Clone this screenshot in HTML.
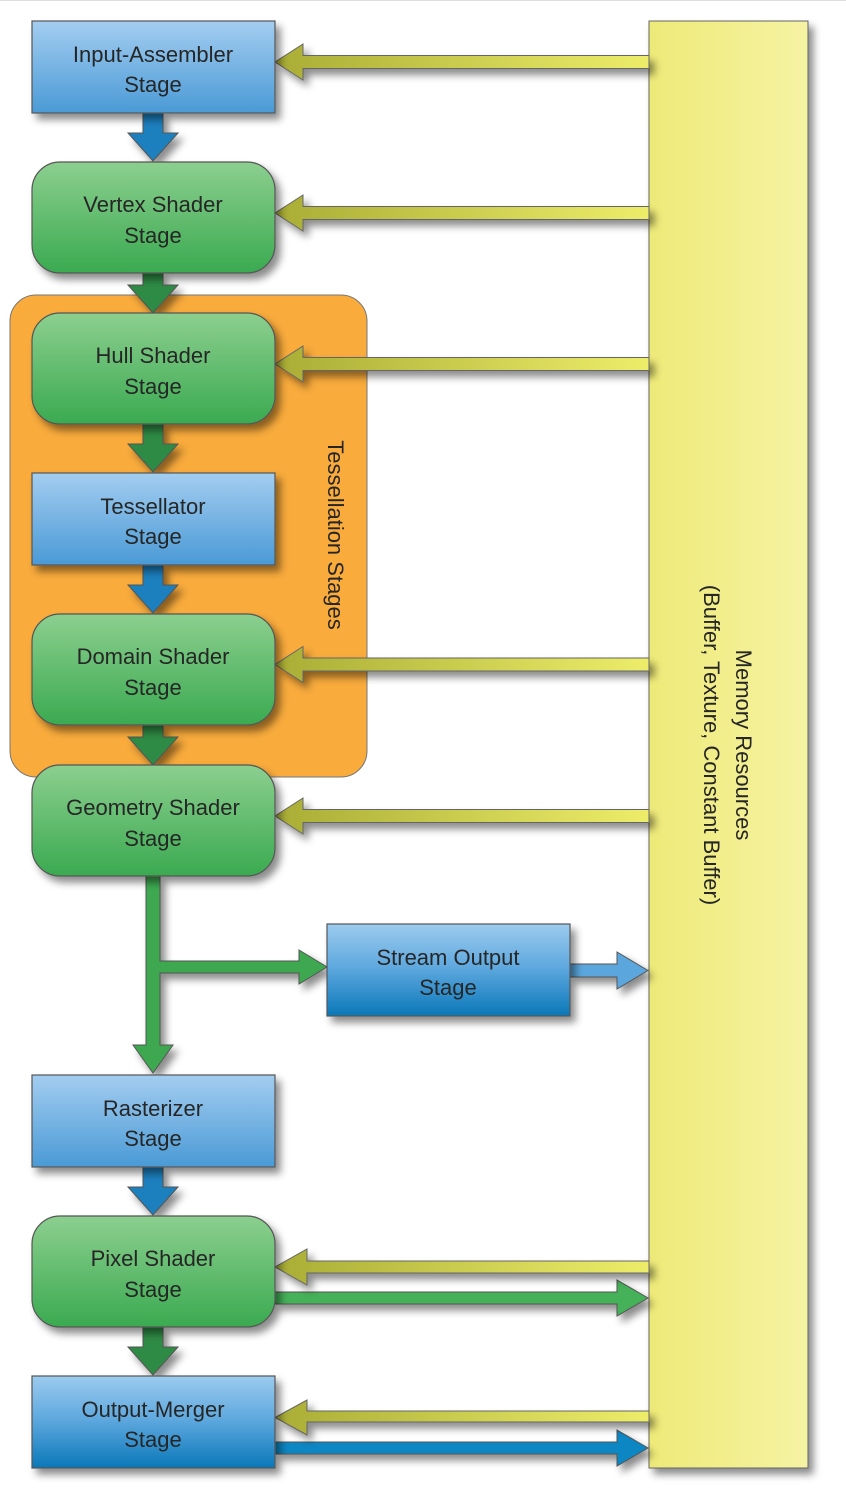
<!DOCTYPE html>
<html><head><meta charset="utf-8"><style>
html,body{margin:0;padding:0;background:#fff;width:846px;height:1501px;overflow:hidden}
text{font-family:"Liberation Sans",sans-serif;font-size:22px;fill:#262626;text-anchor:middle}
</style></head><body>
<svg width="846" height="1501" viewBox="0 0 846 1501" xmlns="http://www.w3.org/2000/svg">
<defs>
<linearGradient id="bl" x1="0" y1="0" x2="0" y2="1"><stop offset="0" stop-color="#a3cdf0"/><stop offset="1" stop-color="#4a9ad6"/></linearGradient>
<linearGradient id="bd" x1="0" y1="0" x2="0" y2="1"><stop offset="0" stop-color="#9ccbef"/><stop offset="0.5" stop-color="#5aa6dd"/><stop offset="1" stop-color="#0a78b8"/></linearGradient>
<linearGradient id="gr" x1="0" y1="0" x2="0" y2="1"><stop offset="0" stop-color="#8ccf8f"/><stop offset="1" stop-color="#3aaa50"/></linearGradient>
<linearGradient id="ye" x1="0" y1="0" x2="1" y2="0"><stop offset="0" stop-color="#a9ad35"/><stop offset="1" stop-color="#eded6a"/></linearGradient>
<linearGradient id="mem" x1="0" y1="0" x2="1" y2="0"><stop offset="0" stop-color="#eeea78"/><stop offset="1" stop-color="#f6f3a4"/></linearGradient>
<filter id="sh" x="-10%" y="-10%" width="130%" height="130%"><feDropShadow dx="5" dy="6" stdDeviation="4" flood-color="#000" flood-opacity="0.45"/></filter>
</defs>
<line x1="0" y1="0.5" x2="846" y2="0.5" stroke="#ddd"/>
<rect x="649" y="21" width="159" height="1447" fill="url(#mem)" stroke="#666" filter="url(#sh)"/>
<rect x="10" y="295" width="357" height="482" rx="26" fill="#f9ab3c" stroke="#777"/>
<text transform="translate(335,535) rotate(90)" dy="7">Tessellation Stages</text>
<g transform="translate(728,745) rotate(90)"><text y="-8">Memory Resources</text><text y="24">(Buffer, Texture, Constant Buffer)</text></g>
<g stroke="#555" stroke-width="1" filter="url(#sh)">
<path d="M143,113 h20 v20 h15 l-25,28 l-25,-28 h15z" fill="#1a7fbe"/>
<path d="M143,273 h20 v12 h15 l-25,28 l-25,-28 h15z" fill="#2e8b44"/>
<path d="M143,424 h20 v20 h15 l-25,28 l-25,-28 h15z" fill="#2e8b44"/>
<path d="M143,565 h20 v20 h15 l-25,28 l-25,-28 h15z" fill="#1a7fbe"/>
<path d="M143,725 h20 v12 h15 l-25,28 l-25,-28 h15z" fill="#2e8b44"/>
<path d="M143,1167 h20 v20 h15 l-25,28 l-25,-28 h15z" fill="#1a7fbe"/>
<path d="M143,1327 h20 v20 h15 l-25,28 l-25,-28 h15z" fill="#2e8b44"/>
<path d="M146,876 h14 v85 h139 v-11 l28,17 l-28,17 v-11 h-139 v72 h13 l-20,28 l-20,-28 h13z" fill="#3ea84f"/>
<path d="M570,964 h47 v-12 l31,18.5 l-31,18.5 v-12 h-47z" fill="#5aa6dd"/>
<path d="M275,1292 h342 v-12 l31,18 l-31,18 v-12 h-342z" fill="#45b159"/>
<path d="M275,1442 h342 v-12 l31,18 l-31,18 v-12 h-342z" fill="#0a86c4"/>
</g>
<g fill="url(#ye)" stroke="#666" filter="url(#sh)">
<path d="M649,55.5 h-346 v-11.5 l-28,18 l28,18 v-11.5 h346z"/>
<path d="M649,206.5 h-346 v-11.5 l-28,18 l28,18 v-11.5 h346z"/>
<path d="M649,357.5 h-346 v-11.5 l-28,18 l28,18 v-11.5 h346z"/>
<path d="M649,658 h-346 v-11.5 l-28,18 l28,18 v-11.5 h346z"/>
<path d="M649,809.5 h-346 v-11.5 l-28,18 l28,18 v-11.5 h346z"/>
<path d="M649,1261 h-342 v-12 l-32,18 l32,18 v-12 h342z"/>
<path d="M649,1411 h-342 v-11 l-32,17.5 l32,17.5 v-13 h342z"/>
</g>
<g stroke="#555" stroke-width="1.2" filter="url(#sh)">
<rect x="32" y="21" width="243" height="92" fill="url(#bl)"/>
<rect x="32" y="162" width="243" height="111" rx="28" fill="url(#gr)"/>
<rect x="32" y="313" width="243" height="111" rx="28" fill="url(#gr)"/>
<rect x="32" y="473" width="243" height="92" fill="url(#bl)"/>
<rect x="32" y="614" width="243" height="111" rx="28" fill="url(#gr)"/>
<rect x="32" y="765" width="243" height="111" rx="28" fill="url(#gr)"/>
<rect x="327" y="924" width="243" height="92" fill="url(#bd)"/>
<rect x="32" y="1075" width="243" height="92" fill="url(#bl)"/>
<rect x="32" y="1216" width="243" height="111" rx="28" fill="url(#gr)"/>
<rect x="32" y="1376" width="243" height="92" fill="url(#bd)"/>
</g>
<text x="153" y="62">Input-Assembler</text><text x="153" y="92">Stage</text>
<text x="153" y="212">Vertex Shader</text><text x="153" y="243">Stage</text>
<text x="153" y="363">Hull Shader</text><text x="153" y="394">Stage</text>
<text x="153" y="514">Tessellator</text><text x="153" y="544">Stage</text>
<text x="153" y="664">Domain Shader</text><text x="153" y="695">Stage</text>
<text x="153" y="815">Geometry Shader</text><text x="153" y="846">Stage</text>
<text x="448" y="965">Stream Output</text><text x="448" y="995">Stage</text>
<text x="153" y="1116">Rasterizer</text><text x="153" y="1146">Stage</text>
<text x="153" y="1266">Pixel Shader</text><text x="153" y="1297">Stage</text>
<text x="153" y="1417">Output-Merger</text><text x="153" y="1447">Stage</text>
</svg>
</body></html>
